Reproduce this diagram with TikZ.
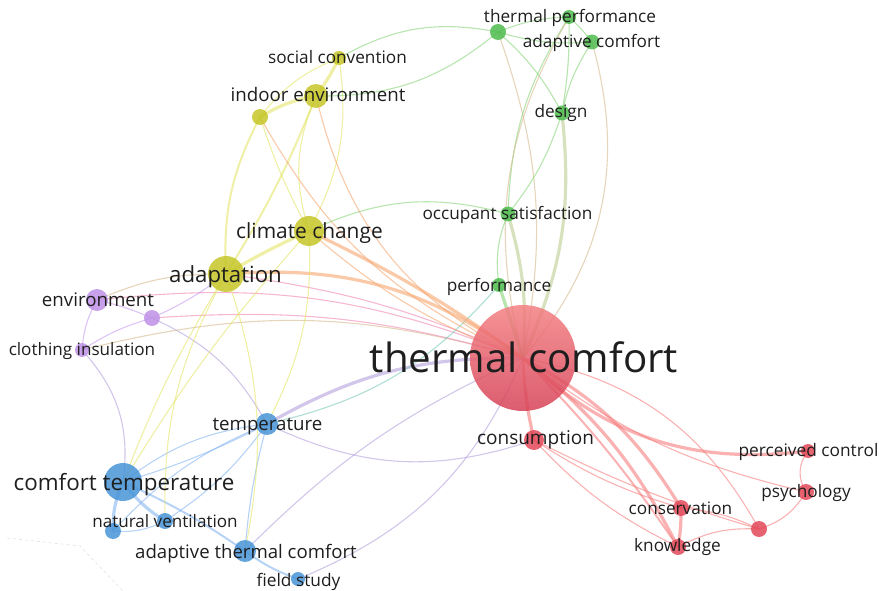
\documentclass[tikz,border=0pt]{standalone}
\usepackage{fontspec}
\setmainfont{Open Sans}
\definecolor{cR}{RGB}{226,72,88}
\definecolor{tcTop}{RGB}{243,128,130}
\definecolor{tcBot}{RGB}{214,64,86}
\definecolor{cG}{RGB}{78,188,78}
\definecolor{cY}{RGB}{198,198,40}
\definecolor{cP}{RGB}{190,145,230}
\definecolor{cB}{RGB}{72,148,215}
\definecolor{eR}{RGB}{246,125,125}
\definecolor{eG}{RGB}{135,212,120}
\definecolor{eY}{RGB}{228,228,105}
\definecolor{eB}{RGB}{135,182,240}
\definecolor{eP}{RGB}{198,155,240}
\definecolor{eO}{RGB}{246,165,110}
\definecolor{eBr}{RGB}{212,185,140}
\definecolor{eK}{RGB}{190,205,145}
\definecolor{ePk}{RGB}{240,135,180}
\definecolor{eBP}{RGB}{180,160,220}
\definecolor{eT}{RGB}{120,200,185}
\definecolor{txt}{RGB}{30,30,30}
\tikzset{
  ed/.style={line cap=round, draw opacity=0.6, line width=1.1pt},
  w2/.style={line width=2pt},
  w3/.style={line width=3.2pt},
  nd/.style={circle, inner sep=0pt, fill opacity=0.85, draw=none},
  lbl/.style={text=txt, inner sep=0pt, anchor=base},
}
\begin{document}
\begin{tikzpicture}[x=1pt,y=1pt]
\useasboundingbox (0,0) rectangle (879,-591);
% coordinates
\coordinate (TC) at (523,-358);
\coordinate (cons) at (534,-440);
\coordinate (perc) at (808,-451);
\coordinate (psy) at (806,-492);
\coordinate (r0) at (759,-529);
\coordinate (csv) at (681,-508);
\coordinate (know) at (678,-547);
\coordinate (perf) at (499,-285);
\coordinate (occ) at (508,-214);
\coordinate (des) at (562,-113);
\coordinate (tp) at (569,-17);
\coordinate (ac) at (592,-42);
\coordinate (g0) at (498,-32);
\coordinate (soc) at (339,-58);
\coordinate (ind) at (316,-96);
\coordinate (y0) at (260,-117);
\coordinate (cc) at (309,-231);
\coordinate (ada) at (226,-274);
\coordinate (env) at (97,-300);
\coordinate (p0) at (152,-318);
\coordinate (clo) at (82,-350);
\coordinate (tem) at (267,-424);
\coordinate (ct) at (123,-482);
\coordinate (nv) at (165,-521);
\coordinate (b0) at (113,-531);
\coordinate (atc) at (245,-551);
\coordinate (fs) at (298,-579);
% faint stray line
\coordinate (s1) at (7,-538);
\coordinate (s2) at (80,-546);
\coordinate (s3) at (123,-591);
\draw[black!12, line width=0.6pt, dashed] (s1) -- (s2) -- (s3);
% ---- edges: purple / blue
\draw[ed, eP] (env) to[bend left=5] (p0);
\draw[ed, eP] (env) to[bend right=12] (clo);
\draw[ed, eP] (clo) to[bend left=8] (p0);
\draw[ed, eBP] (p0) to[bend left=18] (tem);
\draw[ed, eBP] (clo) to[bend left=25] (ct);
\draw[ed, eBr] (clo) to[bend left=15] (TC);
\draw[ed, ePk] (env) to[bend left=14] (TC);
\draw[ed, ePk] (p0) to[bend left=10] (TC);
\draw[ed, ePk] (ada) to[bend left=8] (TC);
\draw[ed, eBr] (ada) to[bend right=12] (env);
\draw[ed, eP] (ada) to[bend left=6] (p0);
\draw[ed, eB] (tem) to[bend right=15] (ct);
\draw[ed, eB] (tem) to[bend left=5] (ct);
\draw[ed, eB] (tem) to[bend right=5] (atc);
\draw[ed, eB] (tem) to[bend left=10] (nv);
\draw[ed, eB] (b0) to[bend left=12] (tem);
\draw[ed, eB, w3] (ct) to[bend right=10] (nv);
\draw[ed, eB, w3] (ct) to[bend right=12] (b0);
\draw[ed, eB, w2] (ct) to[bend left=5] (atc);
\draw[ed, eB] (b0) to[bend right=15] (nv);
\draw[ed, eB, w2] (atc) to[bend right=8] (fs);
\draw[ed, eBP] (fs) to[bend right=22] (TC);
\draw[ed, eBP] (atc) to[bend left=10] (TC);
\draw[ed, eBP, w3] (tem) to[bend left=15] (TC);
\draw[ed, eBP] (tem) to[bend right=22] (cons);
\draw[ed, eT] (tem) to[bend right=18] (perf);
% ---- yellow
\draw[ed, eY, w3] (soc) to[bend left=5] (ind);
\draw[ed, eY] (soc) to[bend right=15] (y0);
\draw[ed, eY] (soc) to[bend left=18] (cc);
\draw[ed, eY, w3] (ind) to[bend right=10] (y0);
\draw[ed, eY, w2] (ind) to[bend left=5] (ada);
\draw[ed, eY, w2] (y0) to[bend right=15] (ada);
\draw[ed, eY] (y0) to[bend right=5] (cc);
\draw[ed, eY] (ind) to[bend right=20] (cc);
\draw[ed, eO] (ind) to[bend right=25] (TC);
\draw[ed, eO] (y0) to[bend right=18] (TC);
\draw[ed, eY, w3] (cc) to[bend right=3] (ada);
\draw[ed, eO, w3] (cc) to[bend left=5] (TC);
\draw[ed, eO] (cc) to[bend right=10] (TC);
\draw[ed, eO, w3] (ada) to[bend left=20] (TC);
\draw[ed, eY] (ada) to[bend right=15] (nv);
\draw[ed, eY] (ada) to[bend right=5] (ct);
\draw[ed, eY] (ada) to[bend left=15] (atc);
\draw[ed, eY] (cc) to[bend right=5] (ct);
\draw[ed, eY] (cc) to[bend left=15] (tem);
% ---- green
\draw[ed, eG] (g0) to[bend left=10] (tp);
\draw[ed, eG] (g0) to[bend right=10] (ac);
\draw[ed, eG] (tp) to[bend left=5] (ac);
\draw[ed, eG] (g0) to[bend left=10] (des);
\draw[ed, eBr] (g0) to[bend left=15] (TC);
\draw[ed, eG] (tp) to[bend right=15] (occ);
\draw[ed, eBr] (tp) to[bend right=22] (TC);
\draw[ed, eG] (ac) to[bend right=10] (des);
\draw[ed, eBr] (ac) to[bend left=28] (TC);
\draw[ed, eG] (tp) to[bend left=5] (des);
\draw[ed, eG] (des) to[bend left=10] (occ);
\draw[ed, eK, w3] (des) to[bend left=15] (TC);
\draw[ed, eK, w3] (occ) to[bend left=10] (TC);
\draw[ed, eG] (occ) to[bend right=15] (perf);
\draw[ed, eG, w3] (perf) -- (TC);
\draw[ed, eG] (cc) to[bend left=20] (occ);
\draw[ed, eG] (ind) to[bend right=20] (g0);
\draw[ed, eG] (soc) to[bend left=20] (g0);
% ---- red
\draw[ed, eR, w3] (TC) to[bend right=5] (cons);
\draw[ed, eR, w3] (TC) to[bend right=25] (perc);
\draw[ed, eR] (TC) to[bend right=12] (psy);
\draw[ed, eR] (TC) to[bend left=25] (r0);
\draw[ed, eR, w3] (TC) to[bend left=15] (csv);
\draw[ed, eR, w3] (TC) to[bend left=12] (know);
\draw[ed, eR, w2] (TC) to[bend left=5] (know);
\draw[ed, eR] (cons) to[bend right=10] (know);
\draw[ed, eR] (cons) to[bend right=5] (r0);
\draw[ed, eR] (cons) to[bend right=8] (csv);
\draw[ed, eR] (perc) to[bend right=35] (psy);
\draw[ed, eR] (psy) to[bend left=20] (r0);
\draw[ed, eR] (csv) to[bend left=10] (r0);
\draw[ed, eR] (know) to[bend left=15] (r0);
\draw[ed, eR, w3] (csv) to[bend left=5] (know);
% ---- nodes
\node[circle, inner sep=0pt, minimum size=106pt, top color=tcTop, bottom color=tcBot, fill opacity=0.85] (nTC) at (TC) {};
\node[nd, fill=cR, minimum size=20pt] (ncons) at (cons) {};
\node[nd, fill=cR, minimum size=14pt] (nperc) at (perc) {};
\node[nd, fill=cR, minimum size=16pt] (npsy) at (psy) {};
\node[nd, fill=cR, minimum size=16pt] (nr0) at (r0) {};
\node[nd, fill=cR, minimum size=16pt] (ncsv) at (csv) {};
\node[nd, fill=cR, minimum size=16pt] (nknow) at (know) {};
\node[nd, fill=cG, minimum size=14pt] (nperf) at (perf) {};
\node[nd, fill=cG, minimum size=15pt] (nocc) at (occ) {};
\node[nd, fill=cG, minimum size=15pt] (ndes) at (des) {};
\node[nd, fill=cG, minimum size=14pt] (ntp) at (tp) {};
\node[nd, fill=cG, minimum size=15pt] (nac) at (ac) {};
\node[nd, fill=cG, minimum size=16pt] (ng0) at (g0) {};
\node[nd, fill=cY, minimum size=14pt] (nsoc) at (soc) {};
\node[nd, fill=cY, minimum size=24pt] (nind) at (ind) {};
\node[nd, fill=cY, minimum size=16pt] (ny0) at (y0) {};
\node[nd, fill=cY, minimum size=30pt] (ncc) at (cc) {};
\node[nd, fill=cY, minimum size=36pt] (nada) at (ada) {};
\node[nd, fill=cP, minimum size=22pt] (nenv) at (env) {};
\node[nd, fill=cP, minimum size=16pt] (np0) at (p0) {};
\node[nd, fill=cP, minimum size=14pt] (nclo) at (clo) {};
\node[nd, fill=cB, minimum size=22pt] (ntem) at (tem) {};
\node[nd, fill=cB, minimum size=38pt] (nct) at (ct) {};
\node[nd, fill=cB, minimum size=16pt] (nnv) at (nv) {};
\node[nd, fill=cB, minimum size=16pt] (nb0) at (b0) {};
\node[nd, fill=cB, minimum size=22pt] (natc) at (atc) {};
\node[nd, fill=cB, minimum size=14pt] (nfs) at (fs) {};
% ---- labels (anchor = base)
\node[lbl, font=\fontsize{40.3}{40}\selectfont] (lTC) at (524,-372) {thermal comfort};
\node[lbl, font=\fontsize{19}{19}\selectfont] (lcons) at (535.5,-444) {consumption};
\node[lbl, font=\fontsize{17.3}{17}\selectfont] (lperc) at (808.5,-456) {perceived control};
\node[lbl, font=\fontsize{17.2}{17}\selectfont] (lpsy) at (806,-497) {psychology};
\node[lbl, font=\fontsize{17.2}{17}\selectfont] (lcsv) at (680.5,-514) {conservation};
\node[lbl, font=\fontsize{17.2}{17}\selectfont] (lknow) at (677.5,-551) {knowledge};
\node[lbl, font=\fontsize{17.2}{17}\selectfont] (lperf) at (499,-291.5) {performance};
\node[lbl, font=\fontsize{17.2}{17}\selectfont] (locc) at (507.5,-219) {occupant satisfaction};
\node[lbl, font=\fontsize{17.2}{17}\selectfont] (ldes) at (561,-118) {design};
\node[lbl, font=\fontsize{17.2}{17}\selectfont] (ltp) at (570,-23) {thermal performance};
\node[lbl, font=\fontsize{17.2}{17}\selectfont] (lac) at (591.5,-48) {adaptive comfort};
\node[lbl, font=\fontsize{17.2}{17}\selectfont] (lsoc) at (337.5,-64) {social convention};
\node[lbl, font=\fontsize{18.7}{18}\selectfont] (lind) at (318,-102) {indoor environment};
\node[lbl, font=\fontsize{20.9}{20}\selectfont] (lcc) at (309.5,-238) {climate change};
\node[lbl, font=\fontsize{22.2}{22}\selectfont] (lada) at (225.5,-282) {adaptation};
\node[lbl, font=\fontsize{18.7}{18}\selectfont] (lenv) at (98,-306) {environment};
\node[lbl, font=\fontsize{17.1}{17}\selectfont] (lclo) at (82,-355) {clothing insulation};
\node[lbl, font=\fontsize{18.7}{18}\selectfont] (ltem) at (267.5,-430) {temperature};
\node[lbl, font=\fontsize{22.4}{22}\selectfont] (lct) at (124,-490) {comfort temperature};
\node[lbl, font=\fontsize{17.1}{17}\selectfont] (lnv) at (165,-527) {natural ventilation};
\node[lbl, font=\fontsize{18.6}{18}\selectfont] (latc) at (246,-558) {adaptive thermal comfort};
\node[lbl, font=\fontsize{17.3}{17}\selectfont] (lfs) at (298.5,-586) {field study};
\end{tikzpicture}
\end{document}
